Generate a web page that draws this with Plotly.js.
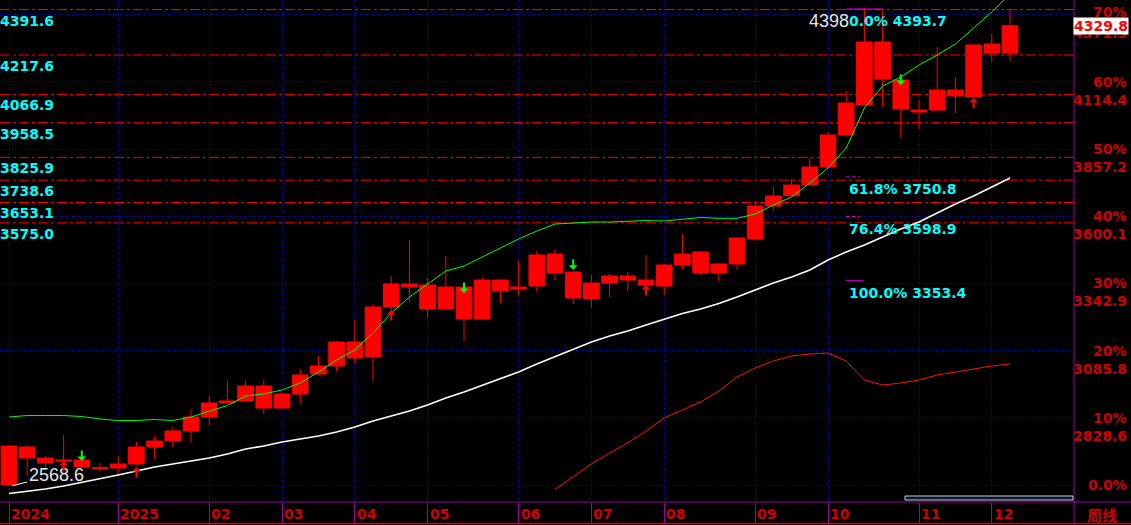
<!DOCTYPE html>
<html><head><meta charset="utf-8">
<script src="https://cdn.plot.ly/plotly-3.0.1.min.js"></script>
<style>html,body{margin:0;padding:0;background:#000;overflow:hidden}#chart{width:1131px;height:525px}</style>
</head><body><div id="chart"></div>
<script>
// ---- data (weekly candles, index-based x) ----
const weekIdx = [0,1,2,3,4,5,6,7,8,9,10,11,12,13,14,15,16,17,18,19,20,21,22,23,24,25,26,27,28,29,30,31,32,33,34,35,36,37,38,39,40,41,42,43,44,45,46,47,48,49,50,51,52,53,54,55];
const openP = [2571.5,2717.0,2674.9,2667.2,2667.2,2633.9,2636.6,2651.9,2717.0,2739.9,
  2778.2,2831.8,2885.4,2893.1,2950.5,2866.3,2919.8,2996.4,3027.0,3118.9,
  3061.5,3252.9,3340.9,3337.1,3245.2,3329.4,3206.9,3356.2,3321.8,3333.3,
  3455.8,3386.9,3283.5,3344.8,3371.6,3356.2,3333.3,3413.7,3463.4,3383.0,
  3417.5,3513.2,3639.5,3678.9,3719.9,3788.8,3911.3,4026.1,4267.3,4121.8,
  4007.0,4007.0,4083.6,4056.8,4259.6,4225.2];
const highP = [2722.0,2724.6,2682.5,2762.9,2668.5,2655.7,2682.5,2736.1,2759.1,2793.5,
  2862.4,2912.2,2970.8,2973.4,2973.4,2927.5,3015.5,3065.3,3122.7,3203.1,
  3264.4,3371.6,3509.4,3363.9,3448.1,3332.0,3367.7,3358.0,3429.0,3467.3,
  3474.9,3389.0,3375.4,3379.2,3386.9,3451.9,3417.5,3532.3,3467.3,3421.3,
  3519.0,3654.8,3712.2,3742.9,3823.3,3922.8,4079.7,4398.0,4393.7,4124.0,
  4045.3,4248.2,4133.3,4259.6,4297.9,4389.8];
const lowP = [2568.6,2606.0,2636.6,2636.6,2638.0,2625.1,2609.8,2648.0,2671.0,2717.0,
  2732.3,2801.2,2884.0,2891.0,2843.3,2864.0,2881.6,2992.6,3007.9,3034.7,
  2969.6,3237.6,3272.0,3210.8,3241.4,3122.7,3205.0,3268.2,3298.8,3314.1,
  3356.2,3264.4,3250.2,3291.2,3314.1,3306.5,3298.8,3398.3,3375.4,3352.4,
  3394.5,3505.5,3620.4,3675.1,3718.0,3787.0,3910.0,4024.0,4018.5,3899.8,
  3934.3,4003.2,3995.5,4055.0,4190.7,4194.6];
const closeP = [2720.8,2674.9,2655.7,2663.4,2640.4,2637.7,2651.9,2717.0,2739.9,2778.2,
  2831.8,2885.4,2893.1,2950.5,2866.3,2919.8,2992.6,3027.0,3118.9,3057.7,
  3252.9,3340.9,3329.4,3245.2,3329.4,3206.9,3356.2,3314.1,3329.4,3451.9,
  3383.0,3287.3,3344.8,3371.6,3356.2,3337.1,3413.7,3455.8,3383.0,3417.5,
  3517.0,3639.5,3677.8,3719.9,3788.8,3911.3,4033.8,4267.3,4125.7,4010.8,
  3999.3,4083.6,4060.6,4255.8,4225.2,4329.8];

// moving-average style lines
const maGreen = [2831.8,2837.5,2837.5,2837.5,2833.7,2824.1,2818.4,2818.4,2822.2,2818.4,
  2831.8,2852.9,2875.8,2912.2,2919.8,2935.2,2962.0,3004.1,3050.0,3088.3,
  3153.4,3229.9,3291.2,3340.9,3390.7,3409.8,3444.3,3478.7,3513.2,3543.8,
  3570.6,3574.4,3578.3,3578.3,3582.1,3584.0,3582.1,3589.7,3595.5,3592.4,
  3592.4,3608.9,3643.3,3674.0,3727.6,3785.0,3861.5,4014.7,4098.9,4133.3,
  4179.3,4217.5,4259.6,4320.9,4382.1,4451.0];
const maWhite = [2539.0,2546.6,2556.2,2567.7,2581.1,2594.5,2609.8,2625.1,2640.4,2651.9,
  2663.4,2674.9,2690.2,2709.3,2720.8,2736.1,2747.6,2759.1,2774.4,2793.5,
  2816.5,2835.6,2854.8,2877.7,2904.5,2927.5,2952.4,2977.3,3004.1,3034.7,
  3063.4,3092.1,3118.9,3141.9,3161.0,3184.0,3206.9,3228.0,3245.2,3266.3,
  3291.2,3318.0,3344.8,3367.7,3394.5,3432.8,3463.4,3490.2,3520.8,3551.5,
  3578.3,3612.7,3647.2,3677.8,3712.2,3746.7];
const redLineIdx = [30,31,32,33,34,35,36,37,38,39,40,41,42,43,44,45,46,47,48,49,50,51,52,53,54,55];
const redLine = [2554.3,2602.1,2651.9,2694.0,2732.3,2778.2,2828.0,2858.6,2889.2,2931.3,
  2984.9,3019.4,3046.2,3065.3,3073.0,3076.8,3046.2,2973.4,2954.3,2962.0,
  2973.4,2992.6,3004.1,3015.5,3027.0,3034.7];

// horizontal price levels (left cyan labels)
const levels = [4391.6,4217.6,4066.9,3958.5,3825.9,3738.6,3653.1,3575.0];
// fibonacci labels
const fibPct = ['0.0%','61.8%','76.4%','100.0%'];
const fibVal = [4393.7,3750.8,3598.9,3353.4];
// right axis
const pctText = ['0.0%','10%','20%','30%','40%','50%','60%','70%'];
const pctPrice = [2571.5,2828.6,3085.8,3342.9,3600.1,3857.2,4114.4,4371.5];
// x axis months
const monthText = ['2024','2025','02','03','04','05','06','07','08','09','10','11','12'];
const monthIdx = [0,6,11,15,19,23,28,32,36,41,45,50,54];
// signals
const downIdx = [4,25,31,49];
const downPrice = [2663.4,3306.5,3395.7,4102.7];
const upIdx = [3,7,21,35,53];
const upPrice = [2663.4,2640.4,3241.4,3337.1,4052.9];
const lastPrice = 4329.8;
const highLabel = {idx:47, price:4398.0};
const lowLabel = {idx:0, price:2568.6};

// ---- styles ----
const RED = '#ff0000', AXRED = '#d00000', CYAN = '#00ffff', PURPLE = '#a000a0', BLUE = '#0000ff';
const F = 'DejaVu Sans, Verdana, sans-serif';
const X0 = -0.495, X1 = 58.516, Y0 = 2506.4, Y1 = 4428.2;

const traces = [
  {type:'scatter', mode:'lines', x:redLineIdx, y:redLine, line:{color:'#ff1010', width:1}, hoverinfo:'skip'},
  {type:'scatter', mode:'lines', x:weekIdx, y:maWhite, line:{color:'#ffffff', width:1.5}, hoverinfo:'skip'},
  {type:'scatter', mode:'lines', x:weekIdx, y:maGreen, line:{color:'#00ff00', width:1}, hoverinfo:'skip'},
  {type:'candlestick', x:weekIdx, open:openP, high:highP, low:lowP, close:closeP,
   increasing:{line:{color:RED, width:1}, fillcolor:RED},
   decreasing:{line:{color:RED, width:1}, fillcolor:RED},
   whiskerwidth:0, hoverinfo:'skip'}
];

const shapes = [];
const annotations = [];

levels.forEach(v => {
  shapes.push({type:'line', xref:'paper', yref:'y', x0:0, x1:1, y0:v, y1:v,
    line:{color:RED, width:1, dash:'10px,3px,3px,3px'}, layer:'below'});
  annotations.push({xref:'paper', yref:'y', x:0, y:v, xanchor:'left', yanchor:'middle', yshift:-11, xshift:-2,
    text:v.toFixed(1), showarrow:false, font:{family:F, size:14, color:CYAN, weight:'bold'}});
});

// fib marks
fibVal.forEach((v,i) => {
  const x1 = i === 0 ? 48.0 : (i === 3 ? 46.95 : 46.75);
  shapes.push({type:'line', xref:'x', yref:'y', x0:45.98, x1:x1, y0:v, y1:v,
    line:{color:'#e000e0', width:1, dash:(i===1||i===2)?'4px,2px':'solid'}});
});

// high label (white) then fib text (cyan on top)
annotations.push({xref:'x', yref:'y', x:highLabel.idx - 0.75, y:highLabel.price, xanchor:'right', yanchor:'middle', yshift:-13,
  text:String(Math.round(highLabel.price)), showarrow:false, font:{family:'Liberation Sans, Arial, sans-serif', size:18, color:'#e6e6e6'}});
fibVal.forEach((v,i) => {
  annotations.push({xref:'x', yref:'y', x:46.05, y:v, xanchor:'left', yanchor:'middle', yshift:-12,
    text:fibPct[i] + ' ' + v.toFixed(1), showarrow:false, font:{family:F, size:14, color:CYAN, weight:'bold'}});
});

// low label with pointer
annotations.push({xref:'x', yref:'y', x:lowLabel.idx + 0.17, y:lowLabel.price, ax:44, ay:-11, axref:'pixel', ayref:'pixel',
  text:lowLabel.price.toFixed(1), showarrow:true, arrowhead:0, arrowwidth:1, arrowcolor:'#ffffff', standoff:0,
  font:{family:'Liberation Sans, Arial, sans-serif', size:18, color:'#e6e6e6'}});

// signal arrows
downIdx.forEach((ix,i) => annotations.push({xref:'x', yref:'y', x:ix, y:downPrice[i], ax:0, ay:-12, text:'',
  showarrow:true, arrowhead:1, arrowsize:0.75, arrowwidth:2, arrowcolor:'#00ff00', standoff:0}));
upIdx.forEach((ix,i) => annotations.push({xref:'x', yref:'y', x:ix, y:upPrice[i], ax:0, ay:12, text:'',
  showarrow:true, arrowhead:1, arrowsize:0.75, arrowwidth:2, arrowcolor:RED, standoff:0}));

// right axis labels
const RX = 1129/1074;
pctPrice.forEach((p,i) => {
  annotations.push({xref:'paper', yref:'y', x:RX, y:p, xanchor:'right', yanchor:'middle', yshift:(i === 7 ? 3 : 0),
    text:pctText[i], showarrow:false, font:{family:F, size:14, color:AXRED, weight:'bold'}});
  if (i > 0) annotations.push({xref:'paper', yref:'y', x:RX, y:p, xanchor:'right', yanchor:'middle', yshift:-18,
    text:p.toFixed(1), showarrow:false, font:{family:F, size:14, color:AXRED, weight:'bold'}});
});
annotations.push({xref:'paper', yref:'y', x:RX, y:lastPrice, xanchor:'right', yanchor:'middle',
  text:lastPrice.toFixed(1), showarrow:false, bgcolor:'#ffffff', borderpad:0,
  font:{family:F, size:14, color:RED, weight:'bold'}});

// month labels
monthIdx.forEach((ix,i) => annotations.push({xref:'x', yref:'paper', x:ix, y:0, xanchor:'left', yanchor:'middle',
  xshift:0, yshift:-12, text:monthText[i], showarrow:false, font:{family:F, size:14, color:AXRED, weight:'bold'}}));
annotations.push({xref:'paper', yref:'paper', x:1101.5/1074, y:0, xanchor:'center', yanchor:'middle', yshift:-12,
  text:'周线', showarrow:false, font:{family:'Noto Sans CJK SC, sans-serif', size:15, color:AXRED, weight:'bold'}});

// frame decorations
shapes.push({type:'line', xref:'paper', yref:'paper', x0:0, x1:1131/1074, y0:0, y1:0, line:{color:PURPLE, width:1}});
shapes.push({type:'line', xref:'paper', yref:'paper', x0:1, x1:1, y0:-23/502, y1:1, line:{color:PURPLE, width:1}});
shapes.push({type:'line', xref:'paper', yref:'paper', x0:0, x1:1131/1074, y0:-21.5/502, y1:-21.5/502, line:{color:'#e00000', width:1.5}});
shapes.push({type:'rect', xref:'paper', yref:'paper', x0:905/1074, x1:1073/1074, y0:2/502, y1:6/502,
  fillcolor:'#0a1838', line:{color:'#c8c8c8', width:1}});

const layout = {
  width:1131, height:525,
  margin:{l:0, r:57, t:0, b:23, pad:0},
  paper_bgcolor:'#000000', plot_bgcolor:'#000000',
  showlegend:false, hovermode:false,
  boxgap:0.14, boxgroupgap:0,
  xaxis:{range:[X0,X1], tickvals:monthIdx, showticklabels:false, ticks:'outside', ticklen:20, tickcolor:PURPLE, tickwidth:1,
    showgrid:true, gridcolor:BLUE, griddash:'1px,2px', gridwidth:1, zeroline:false, showline:false,
    rangeslider:{visible:false}, fixedrange:true},
  yaxis:{range:[Y0,Y1], tickvals:pctPrice, showticklabels:false, ticks:'',
    showgrid:true, gridcolor:BLUE, griddash:'1px,2px', gridwidth:1, zeroline:false, showline:false, fixedrange:true},
  shapes:shapes, annotations:annotations
};

Plotly.newPlot('chart', traces, layout, {staticPlot:true, displayModeBar:false});
</script></body></html>
